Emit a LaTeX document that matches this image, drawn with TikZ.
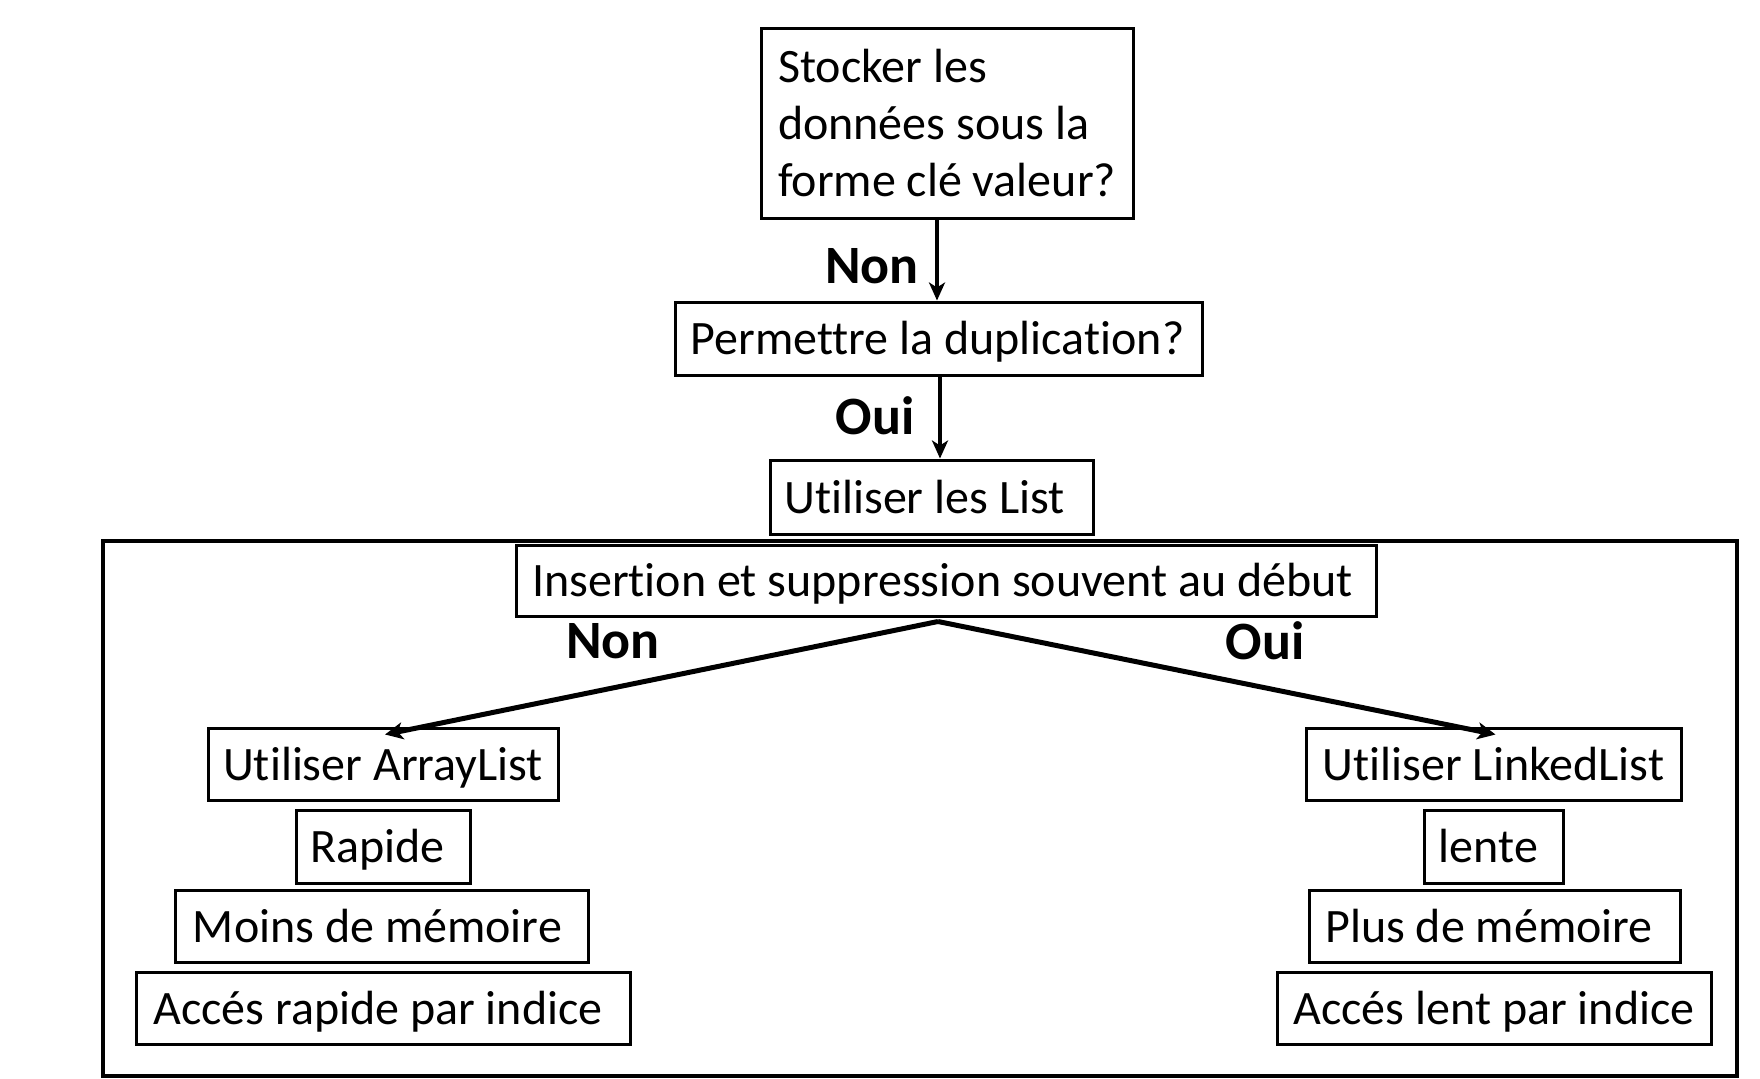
\documentclass[tikz,border=0pt]{standalone}
\usepackage{fontspec}
\setmainfont{Carlito}[Ligatures=NoCommon]
\usetikzlibrary{arrows.meta}
\newcommand{\padr}[1]{\hspace*{#1}}
\begin{document}
\begin{tikzpicture}[x=1pt,y=-1pt,
  box/.style={draw, line width=3pt, inner sep=0pt, fill=white, text height=44pt, text depth=12pt, font=\fontsize{48}{57}\selectfont},
  lbl/.style={inner sep=0pt, font=\fontsize{54}{60}\selectfont\bfseries},
  arr/.style={line width=4pt, -{Stealth[length=18pt,width=16pt,inset=5pt]}},
  arrb/.style={line width=5pt, -{Stealth[length=18pt,width=17pt,inset=5pt]}}]
\useasboundingbox (0,0) rectangle (1760,1078);
\fill[white] (0,0) rectangle (1760,1078);
% outer frame
\draw[line width=4.5pt] (103,541) rectangle (1737,1076);
% top chain
\node[draw, line width=3pt, inner sep=0pt, fill=white, font=\fontsize{48}{57}\selectfont, minimum width=372pt, minimum height=189pt, align=left] (b1) at (947,123.5) {Stocker les\\données sous la\\forme clé valeur?};
\node[box, minimum width=527pt, minimum height=73pt] (b2) at (938.5,338.5) {Permettre la duplication?\padr{2pt}};
\node[box, minimum width=323pt, minimum height=74pt] (b3) at (931.5,497) {Utiliser les List\padr{14pt}};
\node[box, minimum width=860pt, minimum height=71pt] (b4) at (946,580.5) {Insertion et suppression souvent au début\padr{7pt}};
% left column
\node[box, minimum width=350pt, minimum height=72pt] (a1) at (383,764) {Utiliser ArrayList};
\node[box, minimum width=174pt, minimum height=73pt] (a2) at (383,846.5) {Rapide\padr{11pt}};
\node[box, minimum width=413pt, minimum height=72pt] (a3) at (381.5,926) {Moins de mémoire\padr{8pt}};
\node[box, minimum width=494pt, minimum height=72pt] (a4) at (383,1008) {Accés rapide par indice\padr{10pt}};
% right column
\node[box, minimum width=375pt, minimum height=72pt] (l1) at (1493.5,764) {Utiliser LinkedList};
\node[box, minimum width=139pt, minimum height=73pt] (l2) at (1493.5,846.5) {lente\padr{10pt}};
\node[box, minimum width=371pt, minimum height=72pt] (l3) at (1494.5,926) {Plus de mémoire\padr{11pt}};
\node[box, minimum width=434pt, minimum height=72pt] (l4) at (1494,1008) {Accés lent par indice};
% labels
\node[lbl] (n1) at (872,266) {Non};
\node[lbl] (o1) at (875,416) {Oui};
\node[lbl] (n2) at (613,641) {Non};
\node[lbl] (o2) at (1265,641) {Oui};
% connectors
\draw[arr] ([xshift=-10pt]b1.south) -- ([xshift=-10pt]b1.south |- b2.north);
\draw[arr] ([xshift=1.5pt]b2.south) -- ([xshift=1.5pt]b2.south |- b3.north);
\coordinate (split) at ([xshift=-8pt,yshift=-4pt]b4.south);
\draw[arrb] (split) -- ([xshift=2pt,yshift=-8pt]a1.north);
\draw[arrb] (split) -- ([xshift=2pt,yshift=-8pt]l1.north);
\end{tikzpicture}
\end{document}
